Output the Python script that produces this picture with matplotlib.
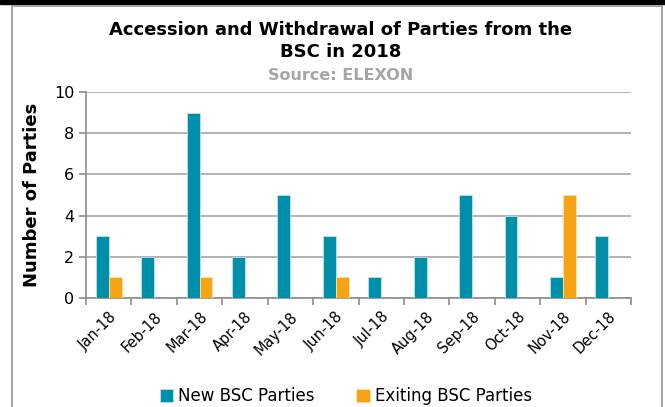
import numpy as np
import matplotlib.pyplot as plt
from matplotlib.patches import Rectangle

months = ["Jan-18", "Feb-18", "Mar-18", "Apr-18", "May-18", "Jun-18",
          "Jul-18", "Aug-18", "Sep-18", "Oct-18", "Nov-18", "Dec-18"]
new_parties = [3, 2, 9, 2, 5, 3, 1, 2, 5, 4, 1, 3]
exiting_parties = [1, 0, 1, 0, 0, 1, 0, 0, 0, 0, 5, 0]

teal = "#008FAA"
orange = "#F7A414"

fig = plt.figure(figsize=(6.65, 4.07), dpi=100)
ax = fig.add_axes([86 / 665, 1 - 298 / 407, (631 - 86) / 665, (298 - 92) / 407])

# outer frame like the original screenshot
fig.patches.append(Rectangle((0, 1 - 4 / 407), 1, 4 / 407, transform=fig.transFigure,
                             color="black", zorder=0))
fig.patches.append(Rectangle((12 / 665, -0.1), 650 / 665, 1.1 - 6 / 407, transform=fig.transFigure,
                             fill=False, edgecolor="#A6A6A6", linewidth=1.5, zorder=0))

x = np.arange(len(months))
w = 0.285
ax.bar(x - w / 2, new_parties, w, color=teal, edgecolor="#BFE3EA", linewidth=0.6,
       label="New BSC Parties", zorder=3)
ax.bar(x + w / 2, [v if v else np.nan for v in exiting_parties], w, color=orange,
       edgecolor="#FCE2B0", linewidth=0.6, label="Exiting BSC Parties", zorder=3)

ax.set_xlim(-0.5, len(months) - 0.5)
ax.set_ylim(0, 10)
ax.set_yticks(range(0, 11, 2))
ax.yaxis.grid(True, color="#A6A6A6", linewidth=1.2, zorder=0)
ax.set_axisbelow(True)

for s in ["top", "right"]:
    ax.spines[s].set_visible(False)
ax.spines["left"].set_color("#8C8C8C")
ax.spines["bottom"].set_color("#8C8C8C")
ax.spines["left"].set_linewidth(1.2)
ax.spines["bottom"].set_linewidth(1.2)

ax.set_xticks(x)
ax.set_xticklabels(months, rotation=45, ha="right", rotation_mode="anchor", fontsize=10.5)
ax.tick_params(axis="x", length=0, pad=8)
ax.set_xticks(np.arange(-0.5, len(months)), minor=True)
ax.tick_params(axis="x", which="minor", length=5, color="#8C8C8C", width=1.2)
ax.tick_params(axis="y", length=5, color="#8C8C8C", width=1.2, labelsize=11.5)

ax.set_ylabel("Number of Parties", fontsize=13, fontweight="bold", labelpad=9)

fig.text(0.512, 1 - 41 / 407, "Accession and Withdrawal of Parties from the\nBSC in 2018",
         ha="center", va="center", fontsize=13, fontweight="bold", linespacing=1.3)
fig.text(0.512, 1 - 76 / 407, "Source: ELEXON", ha="center", va="center",
         fontsize=11.5, fontweight="bold", color="#A6A6A6")

fig.legend(loc="center", bbox_to_anchor=(0.52, 1 - 396 / 407), ncol=2, frameon=False,
           fontsize=12, handlelength=0.8, handleheight=0.8, handletextpad=0.3,
           columnspacing=2.5)

fig.savefig("out.png", dpi=100)
